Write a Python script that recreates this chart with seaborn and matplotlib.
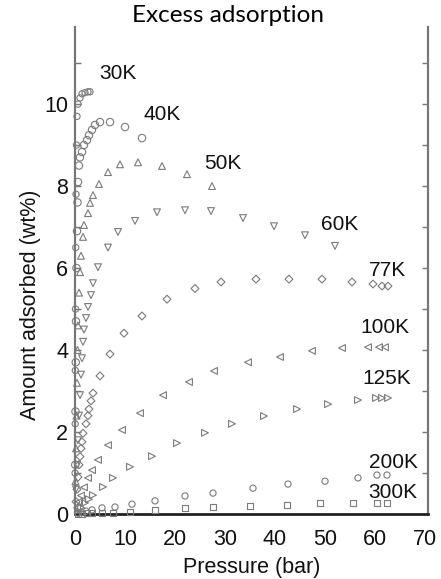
import numpy as np
import pandas as pd
import matplotlib
matplotlib.use("Agg")
import matplotlib.pyplot as plt
import seaborn as sns

# ---- data ----
x30 = [0.02, 0.04, 0.06, 0.1, 0.15, 0.2, 0.3, 0.4, 0.6, 1.0, 1.4, 2.0, 2.6, 3.0]
y30 = [1.0, 2.2, 3.5, 5.0, 6.5, 7.8, 9.0, 9.7, 10.0, 10.15, 10.25, 10.28, 10.3, 10.3]

x40 = [0.05, 0.1, 0.15, 0.2, 0.3, 0.4, 0.5, 0.6, 0.8, 1.0, 1.4, 1.8, 2.4, 2.8, 3.4, 4.0, 5.0, 7.0, 10.0, 13.4]
y40 = [1.2, 2.5, 3.7, 4.7, 6.0, 6.9, 7.6, 8.1, 8.5, 8.7, 8.83, 9.0, 9.12, 9.24, 9.37, 9.49, 9.56, 9.56, 9.44, 9.17]

x50 = [0.1, 0.2, 0.3, 0.4, 0.5, 0.6, 0.8, 1.0, 1.2, 1.6, 1.8, 2.6, 3.0, 3.6, 4.8, 6.6, 9.0, 12.6, 17.4, 22.4, 27.4]
y50 = [0.8, 1.6, 2.4, 3.2, 4.0, 4.6, 5.4, 5.9, 6.3, 6.76, 7.05, 7.34, 7.59, 7.78, 8.05, 8.34, 8.53, 8.58, 8.49, 8.29, 8.0]

x60 = [0.2, 0.4, 0.6, 0.8, 1.0, 1.2, 1.4, 1.6, 1.8, 2.2, 2.6, 3.2, 3.6, 4.6, 6.6, 8.6, 12, 16.4, 22, 27.2, 33.6, 39.8, 46, 52]
y60 = [0.6, 1.2, 1.8, 2.4, 2.9, 3.4, 3.8, 4.2, 4.5, 4.78, 5.05, 5.34, 5.63, 6.02, 6.5, 6.88, 7.15, 7.36, 7.41, 7.39, 7.22, 7.02, 6.8, 6.54]

x77 = [0.2, 0.4, 0.6, 0.8, 1.0, 1.2, 1.4, 1.6, 2.2, 2.6, 2.8, 3.2, 3.6, 5.0, 7.0, 9.8, 13.4, 18.4, 24, 29.2, 36.2, 42.8, 49.4, 55.4, 59.6, 61.4, 62.6]
y77 = [0.3, 0.6, 0.9, 1.2, 1.4, 1.6, 1.76, 1.97, 2.2, 2.4, 2.56, 2.76, 2.95, 3.37, 3.9, 4.41, 4.83, 5.24, 5.5, 5.66, 5.73, 5.73, 5.73, 5.66, 5.61, 5.56, 5.56]

x100 = [0.4, 0.8, 1.2, 1.8, 2.6, 3.4, 4.6, 6.6, 9.4, 13, 17.6, 22.8, 27.8, 34.6, 41, 47.4, 53.4, 58.6, 60.8, 62]
y100 = [0.15, 0.3, 0.45, 0.65, 0.88, 1.07, 1.32, 1.68, 2.05, 2.46, 2.9, 3.22, 3.49, 3.7, 3.83, 3.98, 4.05, 4.07, 4.07, 4.07]

x125 = [0.6, 1.2, 2.0, 2.8, 3.6, 5.6, 7.6, 11, 15.4, 20.4, 26, 31.4, 37.8, 44.4, 50.6, 56.6, 60.2, 61.4, 62.6]
y125 = [0.08, 0.16, 0.27, 0.36, 0.46, 0.66, 0.88, 1.15, 1.41, 1.73, 1.98, 2.2, 2.39, 2.56, 2.68, 2.78, 2.83, 2.83, 2.83]

x200 = [0.6, 1.4, 2.2, 3.4, 5.4, 8, 11.4, 16, 22, 27.6, 35.6, 42.6, 50, 56.6, 60.4, 62.4]
y200 = [0.02, 0.04, 0.07, 0.1, 0.15, 0.17, 0.24, 0.32, 0.44, 0.51, 0.63, 0.73, 0.8, 0.88, 0.95, 0.95]

x300 = [0.6, 1.4, 2.4, 3.4, 5.4, 7.6, 11, 16, 22, 27.6, 35, 42.4, 49, 55.6, 60.4, 62.4]
y300 = [0.005, 0.01, 0.015, 0.02, 0.03, 0.03, 0.05, 0.1, 0.15, 0.17, 0.2, 0.22, 0.27, 0.27, 0.27, 0.27]

series_names = ["30K", "40K", "50K", "60K", "77K", "100K", "125K", "200K", "300K"]
series_x = [x30, x40, x50, x60, x77, x100, x125, x200, x300]
series_y = [y30, y40, y50, y60, y77, y100, y125, y200, y300]

# label positions (data coords) for the temperature tags
label_x = [8.6, 17.4, 29.6, 53.0, 62.4, 62.0, 62.4, 63.6, 63.6]
label_y = [10.75, 9.75, 8.55, 7.05, 5.95, 4.55, 3.3, 1.25, 0.53]

x_ticks = [0, 10, 20, 30, 40, 50, 60, 70]
y_ticks = [0, 2, 4, 6, 8, 10]

title_text = "Excess adsorption"
xlabel_text = "Pressure (bar)"
ylabel_text = "Amount adsorbed (wt%)"

# ---- styling ----
markers = {"30K": "o", "40K": "o", "50K": "^", "60K": "v", "77K": "D",
           "100K": "<", "125K": ">", "200K": "o", "300K": "s"}
sizes = {"30K": 20, "40K": 28, "50K": 24, "60K": 24, "77K": 16,
         "100K": 24, "125K": 24, "200K": 20, "300K": 18}

sns.set_theme(style="white")
plt.rcParams["font.family"] = ["Liberation Sans", "DejaVu Sans"]

fig = plt.figure(figsize=(4.41, 5.79), dpi=100)
ax = fig.add_axes([75/441, 1 - 514/579, (428-75)/441, (514-27)/579])

edge = "#7a7a7a"
for name, xs, ys in zip(series_names, series_x, series_y):
    df = pd.DataFrame({"Pressure": xs, "Amount": ys})
    sns.scatterplot(data=df, x="Pressure", y="Amount", ax=ax,
                    marker=markers[name], s=sizes[name],
                    facecolor="none", edgecolor=edge, linewidth=0.8,
                    clip_on=False, zorder=3, legend=False)

for name, lx, ly in zip(series_names, label_x, label_y):
    ax.text(lx, ly, name, fontsize=15, color="#111111",
            ha="center", va="center")

ax.set_xlim(0, 70.6)
ax.set_ylim(0, 11.88)
ax.set_xticks(x_ticks)
ax.set_yticks(y_ticks)
ax.set_yticks(np.arange(0, 12, 1), minor=True)
ax.tick_params(axis="both", labelsize=15.5, colors="#111111")
ax.tick_params(axis="x", length=0, pad=11)
ax.tick_params(axis="y", which="both", direction="in", length=4, width=1,
               color="#777777", right=True, left=True, pad=5)

for s in ["left", "right"]:
    ax.spines[s].set_color("#777777")
    ax.spines[s].set_linewidth(1.6)
ax.spines["bottom"].set_color("#222222")
ax.spines["bottom"].set_linewidth(2.0)
ax.spines["top"].set_visible(False)

ax.set_xlabel(xlabel_text, fontsize=15.5, color="#111111", labelpad=5)
ax.set_ylabel(ylabel_text, fontsize=15.5, color="#111111")
ax.yaxis.set_label_coords(-0.095, 0.43)

fig.text(228/441, 1 - 15/579, title_text, fontsize=17.5, family=["Lato", "DejaVu Sans"],
         ha="center", va="center", color="black")

fig.savefig("out.png", dpi=100)
